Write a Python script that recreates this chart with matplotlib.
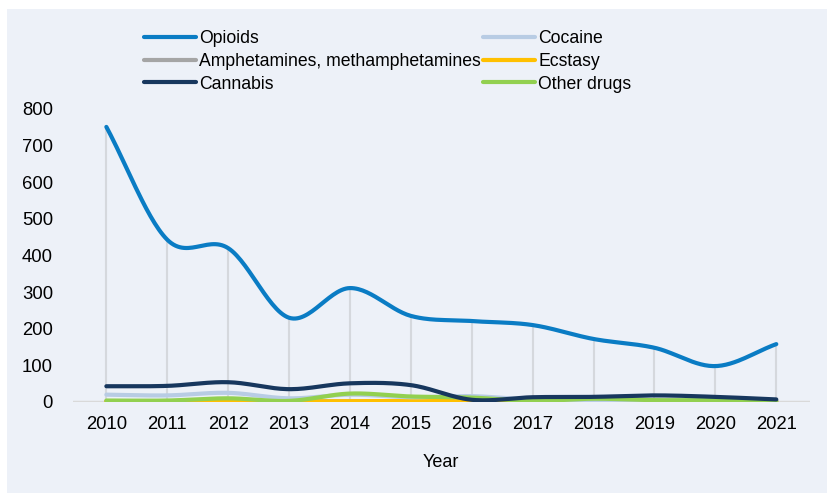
import matplotlib.pyplot as plt
from matplotlib.patches import Rectangle
import numpy as np

plt.rcParams['font.family'] = ['Liberation Sans', 'DejaVu Sans']

years = [2010, 2011, 2012, 2013, 2014, 2015, 2016, 2017, 2018, 2019, 2020, 2021]
opioids = [751, 443, 420, 230, 311, 235, 221, 210, 172, 148, 98, 158]
cocaine = [20, 18, 25, 10, 20, 13, 16, 6, 5, 5, 5, 4]
amphetamines = [2, 2, 3, 2, 2, 2, 2, 2, 2, 2, 2, 2]
ecstasy = [2, 2, 4, 2, 2, 3, 2, 2, 3, 2, 2, 1]
cannabis = [43, 44, 54, 35, 51, 46, 6, 13, 14, 18, 14, 7]
other_drugs = [4, 4, 10, 3, 23, 15, 12, 3, 9, 5, 5, 3]

bg = '#EDF1F8'


def smooth(x, y, n=30):
    # Catmull-Rom curve through the points, like Excel's smoothed line
    x = np.asarray(x, float)
    y = np.asarray(y, float)
    px = np.concatenate([[2 * x[0] - x[1]], x, [2 * x[-1] - x[-2]]])
    py = np.concatenate([[2 * y[0] - y[1]], y, [2 * y[-1] - y[-2]]])
    xs, ys = [], []
    t = np.linspace(0, 1, n)
    for i in range(1, len(px) - 2):
        for p, out in ((px, xs), (py, ys)):
            p0, p1, p2, p3 = p[i - 1], p[i], p[i + 1], p[i + 2]
            out.extend(0.5 * (2 * p1 + (-p0 + p2) * t
                              + (2 * p0 - 5 * p1 + 4 * p2 - p3) * t ** 2
                              + (-p0 + 3 * p1 - 3 * p2 + p3) * t ** 3))
    return xs, ys


fig = plt.figure(figsize=(8.28, 4.93), dpi=100, facecolor=bg)
# white strips on the left and top edges
fig.patches.append(Rectangle((0, 0), 7 / 828, 1, transform=fig.transFigure,
                             facecolor='white', edgecolor='none', zorder=-10))
fig.patches.append(Rectangle((0, 1 - 9 / 493), 1, 9 / 493, transform=fig.transFigure,
                             facecolor='white', edgecolor='none', zorder=-10))
ax = fig.add_axes([0.088, 0.1846, 0.89, 0.5944], facecolor=bg)

x = np.arange(len(years))

# drop lines
ax.vlines(x, 0, opioids, color='#D5D8DD', lw=1.5, zorder=1)
ax.axhline(0, color='#D9D9D9', lw=2.5, zorder=1)

series = [
    ('Opioids', opioids, '#0A7CC4'),
    ('Cocaine', cocaine, '#B8CCE4'),
    ('Amphetamines, methamphetamines', amphetamines, '#A5A5A5'),
    ('Ecstasy', ecstasy, '#FFC000'),
    ('Cannabis', cannabis, '#17375E'),
    ('Other drugs', other_drugs, '#92D050'),
]
draw_order = ['Amphetamines, methamphetamines', 'Ecstasy', 'Cocaine', 'Other drugs', 'Cannabis', 'Opioids']
handles = {}
for name in draw_order:
    lbl, vals, col = [s for s in series if s[0] == name][0]
    sx, sy = smooth(x, vals)
    handles[name], = ax.plot(sx, sy, color=col, lw=3, label=lbl,
                             solid_capstyle='round', zorder=3)

ax.set_xlim(-0.55, len(years) - 0.45)
ax.set_ylim(0, 800)
ax.set_yticks(range(0, 801, 100))
ax.set_xticks(x)
ax.set_xticklabels(years)
ax.tick_params(length=0, labelsize=13.3, colors='#000000')
ax.tick_params(axis='y', pad=14.4)
ax.tick_params(axis='x', pad=10)
for s in ax.spines.values():
    s.set_visible(False)
ax.set_xlabel('Year', fontsize=13, labelpad=15.5)

order = ['Opioids', 'Amphetamines, methamphetamines', 'Cannabis', 'Cocaine', 'Ecstasy', 'Other drugs']
fig.legend([handles[n] for n in order], order, ncol=2, loc='upper left',
           bbox_to_anchor=(135 / 828, 0.957), frameon=False, fontsize=12.7,
           borderpad=0, handlelength=2.95, handletextpad=0.2, columnspacing=0.1,
           labelspacing=0.33)

fig.savefig('out.png', dpi=100, facecolor=bg)
